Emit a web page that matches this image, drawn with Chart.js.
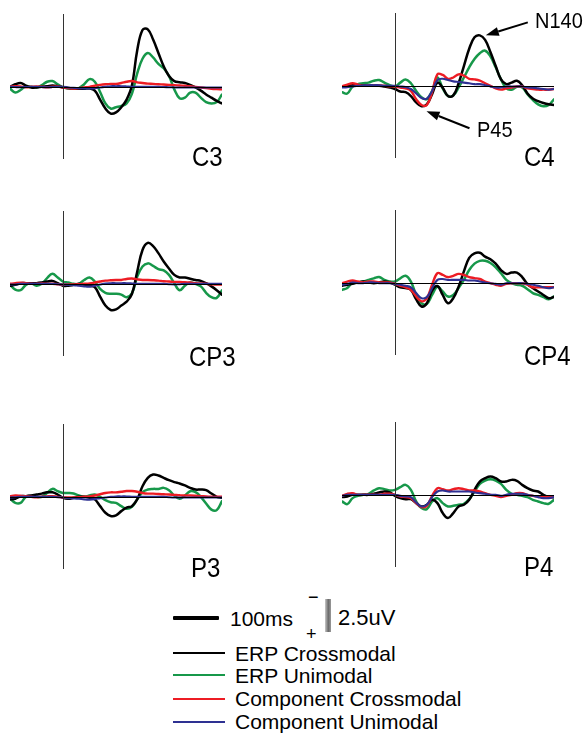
<!DOCTYPE html>
<html>
<head>
<meta charset="utf-8">
<script src="https://cdn.jsdelivr.net/npm/chart.js"></script>
<style>
  body { margin: 0; background: #fff; font-family: "Liberation Sans", Arial, sans-serif; }
  #page { position: relative; width: 588px; height: 733px; overflow: hidden; }
  canvas { position: absolute; }
  .t { position: absolute; white-space: nowrap; color: #000; }
  .big { font-size: 24px; line-height: 24px; transform: scaleY(1.12); transform-origin: 0 20px; }
  .mid { font-size: 20px; line-height: 20px; transform: scaleY(1.12); transform-origin: 0 17px; }
  .leg { font-size: 21px; line-height: 21px; }
  .swatch { position: absolute; left: 173px; width: 52px; height: 2px; }
</style>
</head>
<body>
<div id="page">
  <canvas id="c3" width="212" height="145" style="left:10px;top:14px"></canvas>
  <canvas id="c4" width="212" height="145" style="left:342px;top:13px"></canvas>
  <canvas id="cp3" width="212" height="145" style="left:10px;top:211px"></canvas>
  <canvas id="cp4" width="212" height="145" style="left:342px;top:210px"></canvas>
  <canvas id="p3" width="212" height="145" style="left:10px;top:424px"></canvas>
  <canvas id="p4" width="212" height="145" style="left:342px;top:422px"></canvas>

  <div class="t big" style="left:192px;top:146px">C3</div>
  <div class="t big" style="left:524px;top:146px">C4</div>
  <div class="t big" style="left:189px;top:346px">CP3</div>
  <div class="t big" style="left:524px;top:345px">CP4</div>
  <div class="t big" style="left:191px;top:557px">P3</div>
  <div class="t big" style="left:524px;top:556px">P4</div>
  <div class="t mid" style="left:535px;top:11px">N140</div>
  <div class="t mid" style="left:477px;top:120px">P45</div>

  <!-- scale bars -->
  <div style="position:absolute;left:173px;top:616px;width:46px;height:4px;background:#000;border-radius:1px"></div>
  <div class="t leg" style="left:230px;top:608px">100ms</div>
  <div class="t" style="left:308px;top:588px;font-size:18px;line-height:18px">&minus;</div>
  <div class="t" style="left:306px;top:625px;font-size:18px;line-height:18px">+</div>
  <div style="position:absolute;left:325px;top:599px;width:6px;height:33px;background:linear-gradient(to right,#c8c8c8,#6a6a6a 55%,#9a9a9a)"></div>
  <div class="t" style="left:338px;top:607px;font-size:22px;line-height:22px">2.5uV</div>

  <!-- legend -->
  <div class="swatch" style="top:652px;background:#000"></div>
  <div class="t leg" style="left:235px;top:643px">ERP Crossmodal</div>
  <div class="swatch" style="top:674px;background:#17984a"></div>
  <div class="t leg" style="left:235px;top:665px">ERP Unimodal</div>
  <div class="swatch" style="top:698px;background:#ed1c24"></div>
  <div class="t leg" style="left:235px;top:688px">Component Crossmodal</div>
  <div class="swatch" style="top:721px;background:#2e3192"></div>
  <div class="t leg" style="left:235px;top:711px">Component Unimodal</div>
</div>

<script>
// time in ms, amplitude in uV (negative plotted upward)
const times = [-100, -90, -80, -70, -60, -50, -40, -30, -20, -10, 0, 10, 20, 30, 40, 50, 60, 70, 80, 90,
  100, 110, 120, 130, 140, 150, 160, 170, 180, 190, 200, 210, 220, 230, 240, 250, 260, 270, 280, 290, 300];

const c3ErpCross = [0, -0.2, -0.3, -0.1, 0.05, 0.05, 0, -0.05, -0.1, -0.05, 0.05, 0.1, 0.13, 0.15, 0.15, 0.13, 0.3, 1.0, 1.7, 2.1,
  2.0, 1.6, 1.0, -0.1, -2.85, -4.45, -4.5, -3.7, -2.65, -1.6, -0.85, -0.45, -0.35, -0.3, -0.15, 0.05, 0.3, 0.6, 0.85, 1.1, 1.3];
const c3ErpUni = [0.13, 0.45, 0.25, -0.05, 0, 0.05, -0.13, -0.4, -0.45, -0.2, 0.05, 0.13, 0.15, 0.1, -0.2, -0.6, -0.4, 0.4, 1.3, 1.7,
  1.6, 1.5, 1.3, 0.55, -1.05, -2.2, -2.65, -2.3, -1.8, -1.45, -0.85, 0.2, 0.9, 0.85, 0.45, 0.45, 0.85, 1.2, 1.3, 1.2, 0.6];
const c3CompCross = [0, -0.05, -0.03, 0.03, 0, -0.03, 0, 0.03, 0, -0.03, 0.05, 0.1, 0.13, 0.1, 0.05, 0, -0.08, -0.15, -0.2, -0.23,
  -0.23, -0.3, -0.4, -0.45, -0.35, -0.3, -0.25, -0.23, -0.2, -0.18, -0.15, -0.13, -0.1, -0.08, -0.05, 0, 0.05, 0.1, 0.15, 0.18, 0.2];
const c3CompUni = [0, 0.02, 0.03, 0.02, 0, 0, 0.02, 0.03, 0.02, 0, 0, 0.05, 0.08, 0.1, 0.12, 0.12, 0.1, 0.05, 0, -0.05,
  -0.05, -0.05, -0.03, 0, 0, 0, 0, 0, 0, 0.02, 0.03, 0.05, 0.05, 0.05, 0.05, 0.05, 0.05, 0.05, 0.05, 0.05, 0.05];

const c4ErpCross = [0.05, 0, -0.05, -0.05, -0.03, 0, 0, 0, 0.05, 0.13, 0.25, 0.45, 0.5, 0.8, 1.3, 1.6, 1.45, 0.65, -0.25, 0.15,
  0.8, 0.75, -0.2, -1.55, -2.9, -3.8, -3.95, -3.6, -2.65, -1.55, -0.5, -0.13, -0.25, -0.4, -0.05, 0.6, 1.0, 1.2, 1.35, 1.45, 1.5];
const c4ErpUni = [0.5, 0.6, 0.05, -0.13, -0.2, -0.25, -0.4, -0.45, -0.25, -0.05, 0.05, -0.25, -0.5, -0.2, 0.4, 0.9, 1.05, 0.4, -0.65, 0.2,
  0.8, 0.75, 0.13, -0.65, -1.45, -2.1, -2.55, -2.75, -2.3, -1.45, -0.5, 0.2, 0.3, 0.08, 0.13, 0.65, 1.1, 1.45, 1.6, 1.5, 1.05];
const c4CompCross = [0.05, -0.1, -0.2, -0.1, 0, -0.03, -0.05, -0.03, 0, 0.03, 0.05, 0.13, 0.2, 0.4, 1.05, 1.5, 1.5, 0.5, -0.9, -0.85,
  -0.55, -0.65, -0.9, -0.8, -0.55, -0.5, -0.4, -0.2, 0, 0.2, 0.3, 0.2, 0.13, 0.05, 0.05, 0.2, 0.25, 0.3, 0.3, 0.3, 0.25];
const c4CompUni = [0.13, 0.1, 0.05, 0, -0.03, -0.05, -0.05, -0.05, 0, 0, 0, 0.05, 0.1, 0.25, 0.6, 0.95, 1.0, 0.4, -0.45, -0.55,
  -0.45, -0.35, -0.3, -0.25, -0.2, -0.13, -0.13, -0.05, 0.05, 0.13, 0.13, 0.05, 0.05, 0.05, 0.05, 0.13, 0.15, 0.2, 0.25, 0.3, 0.25];

const cp3ErpCross = [0.15, 0.08, -0.05, -0.05, -0.05, -0.05, -0.1, -0.18, -0.23, -0.05, 0.15, 0.15, 0.08, 0, 0.08, 0.15, 0.25, 1.0, 1.7, 2.05,
  2.0, 1.7, 1.4, 0.8, -0.95, -2.65, -3.2, -2.95, -2.4, -1.75, -1.2, -0.7, -0.5, -0.5, -0.4, -0.3, -0.23, -0.05, 0.2, 0.5, 0.85];
const cp3ErpUni = [0.08, 0.45, 0.5, 0.08, -0.05, 0.15, 0, -0.45, -0.78, -0.5, -0.18, -0.1, 0, 0, -0.3, -0.5, -0.18, 0.4, 0.7, 0.78,
  0.78, 0.85, 1.05, 0.75, -0.55, -1.35, -1.6, -1.4, -1.15, -1.05, -0.7, -0.05, 0.5, 0.15, -0.1, 0, 0.2, 0.7, 1.05, 1.1, 0.5];
const cp3CompCross = [0, -0.05, -0.08, -0.05, 0, 0, -0.03, 0, 0, 0.03, 0.05, 0.05, 0.05, 0.03, 0, -0.03, -0.1, -0.18, -0.25, -0.28,
  -0.3, -0.3, -0.38, -0.42, -0.35, -0.3, -0.3, -0.28, -0.25, -0.2, -0.18, -0.15, -0.15, -0.12, -0.1, -0.05, -0.03, 0, 0.03, 0.05, 0.05];
const cp3CompUni = [0.05, 0.05, 0, 0, 0, 0, 0, 0, 0, 0.03, 0.05, 0.08, 0.1, 0.15, 0.2, 0.22, 0.15, 0.05, -0.03, -0.05,
  -0.05, -0.05, -0.05, -0.03, 0, 0, 0, 0, 0, 0, 0.03, 0.05, 0.03, 0, 0, 0, 0, 0, 0, 0, 0];

const cp4ErpCross = [0.23, 0.15, 0.08, -0.03, -0.1, -0.03, 0.03, -0.03, -0.1, -0.03, 0.15, 0.35, 0.4, 0.55, 1.3, 1.85, 1.6, 0.6, 0.25, 0.95,
  1.6, 1.2, 0.3, -0.9, -1.95, -2.3, -2.35, -2.05, -1.85, -1.5, -1.0, -0.7, -0.8, -0.8, -0.45, 0.1, 0.4, 0.68, 0.95, 1.2, 1.1];
const cp4ErpUni = [0.55, 0.4, -0.03, -0.03, -0.1, -0.23, -0.35, -0.45, -0.23, -0.1, -0.1, -0.35, -0.55, -0.1, 0.95, 1.6, 1.65, 0.95, 0.3, 0.68,
  1.07, 0.95, 0.4, -0.23, -1.0, -1.5, -1.72, -1.72, -1.55, -1.22, -0.75, -0.23, 0.03, 0.15, 0.23, 0.5, 0.8, 0.95, 1.12, 1.28, 1.07];
const cp4CompCross = [0.03, -0.1, -0.18, -0.1, -0.03, -0.1, -0.1, -0.03, -0.03, -0.03, 0.08, 0.23, 0.35, 0.55, 1.07, 1.45, 1.2, 0.15, -0.75, -0.62,
  -0.45, -0.55, -0.7, -0.62, -0.45, -0.37, -0.3, -0.1, 0.03, 0.15, 0.23, 0.08, 0.03, 0.03, 0.03, 0.15, 0.35, 0.35, 0.35, 0.35, 0.35];
const cp4CompUni = [0.15, 0.08, -0.03, 0.03, 0.03, -0.03, -0.03, 0.03, 0.03, 0.03, 0.08, 0.15, 0.23, 0.35, 0.8, 1.2, 1.12, 0.42, -0.23, -0.3,
  -0.23, -0.23, -0.23, -0.23, -0.18, -0.18, -0.1, -0.03, 0.03, 0.08, 0.15, 0.03, 0.03, 0.03, 0.03, 0.08, 0.15, 0.23, 0.35, 0.42, 0.35];

const p3ErpCross = [0.2, 0.15, -0.05, -0.05, -0.1, -0.18, -0.25, -0.35, -0.35, -0.18, 0.08, 0.15, 0.08, 0, 0, 0.08, 0.2, 0.73, 1.25, 1.5,
  1.45, 1.12, 0.85, 0.73, 0.2, -0.83, -1.48, -1.74, -1.67, -1.48, -1.3, -1.15, -1.04, -0.89, -0.7, -0.57, -0.57, -0.52, -0.26, 0, 0.08];
const p3ErpUni = [0.15, 0.47, 0.47, 0, -0.05, 0, 0, -0.3, -0.62, -0.44, -0.3, -0.3, -0.26, -0.1, 0, -0.1, -0.18, 0, 0.26, 0.42,
  0.47, 0.73, 0.94, 0.78, 0.2, -0.36, -0.57, -0.62, -0.62, -0.7, -0.52, -0.1, 0.15, -0.1, -0.44, -0.36, 0, 0.52, 1.0, 1.04, 0.34];
const p3CompCross = [-0.05, -0.1, -0.08, -0.05, 0, 0.03, 0, -0.03, -0.05, 0, 0.05, 0.05, 0.05, 0.03, 0, -0.03, -0.1, -0.2, -0.3, -0.35,
  -0.35, -0.4, -0.45, -0.45, -0.4, -0.3, -0.25, -0.25, -0.22, -0.2, -0.18, -0.15, -0.12, -0.1, -0.1, -0.08, -0.05, -0.03, 0, 0, 0];
const p3CompUni = [0.05, 0.03, 0, 0, 0, 0, 0, 0, 0, 0.03, 0.05, 0.1, 0.12, 0.15, 0.2, 0.22, 0.18, 0.1, 0.05, 0,
  -0.03, -0.03, -0.03, 0, 0, 0, 0, 0, 0, 0, 0.03, 0.05, 0.05, 0.05, 0.05, 0.05, 0.05, 0.05, 0.05, 0.05, 0.05];

const p4ErpCross = [0.18, 0.13, 0, 0, 0, 0, -0.08, -0.18, -0.26, -0.18, 0.08, 0.26, 0.34, 0.34, 0.65, 0.91, 0.78, 0.39, 0.65, 1.43,
  1.82, 1.43, 0.91, 0.78, 0.39, -0.39, -1.04, -1.3, -1.43, -1.3, -1.04, -1.04, -1.17, -1.1, -0.78, -0.52, -0.34, -0.26, 0, 0.18, 0.18];
const p4ErpUni = [0.52, 0.73, 0.26, 0.08, 0, -0.08, -0.34, -0.52, -0.44, -0.34, -0.39, -0.6, -0.78, -0.39, 0.52, 1.04, 1.12, 0.52, 0.26, 0.65,
  0.91, 0.86, 0.78, 0.7, 0.34, -0.26, -0.86, -1.12, -1.22, -1.12, -0.86, -0.39, -0.08, 0, 0.08, 0.18, 0.39, 0.52, 0.65, 0.7, 0.39];
const p4CompCross = [0.08, -0.08, -0.13, 0, 0, 0, 0, 0, -0.08, -0.08, 0, 0.13, 0.18, 0.26, 0.65, 0.96, 0.86, 0.08, -0.52, -0.44,
  -0.34, -0.44, -0.52, -0.44, -0.34, -0.34, -0.26, -0.13, 0, 0.08, 0.18, 0.08, 0, -0.13, -0.13, 0, 0.08, 0.13, 0.18, 0.18, 0.18];
const p4CompUni = [0.08, 0, 0, 0, 0, 0, 0, 0, 0, 0, 0, 0.08, 0.13, 0.18, 0.6, 0.91, 0.78, 0.18, -0.26, -0.34,
  -0.26, -0.26, -0.26, -0.26, -0.26, -0.18, -0.13, -0.08, 0, 0, 0.08, 0, -0.08, -0.08, -0.08, 0, 0.08, 0.18, 0.26, 0.26, 0.18];

const seriesNames = ['ERP Crossmodal', 'ERP Unimodal', 'Component Crossmodal', 'Component Unimodal'];
const seriesColors = ['#000000', '#17984a', '#ed1c24', '#2e3192'];
const seriesWidths = [2.5, 2.5, 2.4, 2.1];
const seriesOrder = [3, 4, 2, 1]; // blue on top, green at the back

// baseline at 0 uV and the stimulus onset line
const refLines = {
  id: 'refLines',
  afterDatasetsDraw(chart) {
    const { ctx, chartArea, scales: { x, y } } = chart;
    ctx.save();
    ctx.lineWidth = 1;
    ctx.strokeStyle = '#000';
    const y0 = Math.round(y.getPixelForValue(0)) + 0.5;
    ctx.beginPath();
    ctx.moveTo(chartArea.left, y0);
    ctx.lineTo(chartArea.right, y0);
    ctx.stroke();
    ctx.strokeStyle = '#333';
    const x0 = Math.round(x.getPixelForValue(0)) + 0.5;
    ctx.beginPath();
    ctx.moveTo(x0, chartArea.top);
    ctx.lineTo(x0, chartArea.bottom);
    ctx.stroke();
    ctx.restore();
  }
};

// arrows pointing at N140 and P45 peaks of the C4 crossmodal ERP
const peakArrows = {
  id: 'peakArrows',
  afterDatasetsDraw(chart, args, opts) {
    const { ctx, scales: { x, y } } = chart;
    ctx.save();
    ctx.strokeStyle = '#000';
    ctx.fillStyle = '#000';
    ctx.lineWidth = 2;
    opts.marks.forEach(m => {
      const tx = x.getPixelForValue(m.t) + m.off[0];
      const ty = y.getPixelForValue(m.v) + m.off[1];
      const sx = tx + m.tail[0], sy = ty + m.tail[1];
      const ang = Math.atan2(ty - sy, tx - sx);
      const hl = 13, hw = 4.5;
      const bx = tx - hl * Math.cos(ang), by = ty - hl * Math.sin(ang);
      ctx.beginPath();
      ctx.moveTo(sx, sy);
      ctx.lineTo(bx, by);
      ctx.stroke();
      ctx.beginPath();
      ctx.moveTo(tx, ty);
      ctx.lineTo(bx + hw * Math.sin(ang), by - hw * Math.cos(ang));
      ctx.lineTo(bx - hw * Math.sin(ang), by + hw * Math.cos(ang));
      ctx.closePath();
      ctx.fill();
    });
    ctx.restore();
  }
};

function makePanel(id, series, extra) {
  const datasets = series.map((vals, i) => ({
    label: seriesNames[i],
    data: times.map((t, k) => ({ x: t, y: vals[k] })),
    borderColor: seriesColors[i],
    borderWidth: seriesWidths[i],
    order: seriesOrder[i],
    fill: false
  }));
  const plugins = [refLines];
  const pluginOpts = { legend: { display: false }, tooltip: { enabled: false } };
  if (extra) {
    plugins.push(peakArrows);
    pluginOpts.peakArrows = extra;
  }
  return new Chart(document.getElementById(id), {
    type: 'line',
    data: { datasets: datasets },
    plugins: plugins,
    options: {
      responsive: false,
      animation: false,
      events: [],
      layout: { padding: 0 },
      elements: {
        point: { radius: 0 },
        line: { tension: 0.4, borderCapStyle: 'round', borderJoinStyle: 'round' }
      },
      plugins: pluginOpts,
      scales: {
        x: { type: 'linear', min: -100, max: 300, display: false },
        y: { min: -5.7, max: 5.65, reverse: true, display: false }
      }
    }
  });
}

makePanel('c3', [c3ErpCross, c3ErpUni, c3CompCross, c3CompUni]);
makePanel('c4', [c4ErpCross, c4ErpUni, c4CompCross, c4CompUni], {
  marks: [
    { t: 160, v: c4ErpCross[26], off: [6, 0], tail: [42, -13] },
    { t: 50, v: c4ErpCross[15], off: [5, 5], tail: [43, 17] }
  ]
});
makePanel('cp3', [cp3ErpCross, cp3ErpUni, cp3CompCross, cp3CompUni]);
makePanel('cp4', [cp4ErpCross, cp4ErpUni, cp4CompCross, cp4CompUni]);
makePanel('p3', [p3ErpCross, p3ErpUni, p3CompCross, p3CompUni]);
makePanel('p4', [p4ErpCross, p4ErpUni, p4CompCross, p4CompUni]);
</script>
</body>
</html>
